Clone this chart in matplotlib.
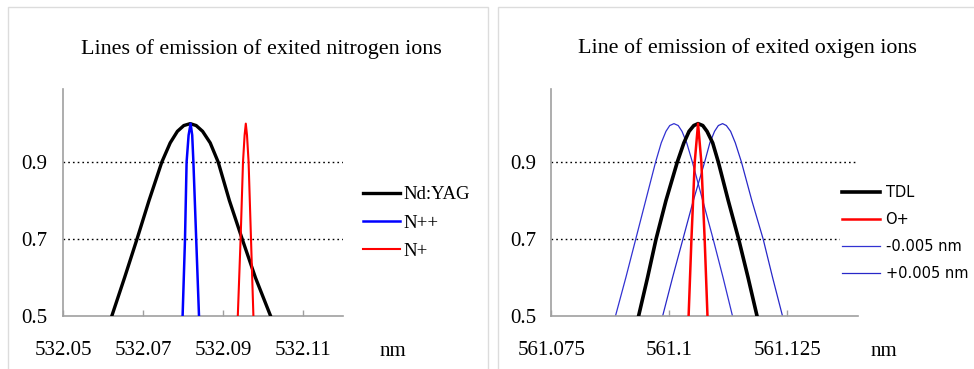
import matplotlib
matplotlib.use("Agg")
import matplotlib.pyplot as plt
from matplotlib.patches import Rectangle

# ---------------- data ----------------
# Left panel: nitrogen ions
yag_wl = [532.0622, 532.0654, 532.0685, 532.0715, 532.0747, 532.0768, 532.0786, 532.0802, 532.0818,
          532.0833, 532.0849, 532.0868, 532.0888, 532.0916, 532.0948, 532.0981, 532.1019]
yag_i = [0.50, 0.60, 0.70, 0.80, 0.90, 0.95, 0.98, 0.995, 1.00,
         0.995, 0.98, 0.95, 0.90, 0.80, 0.70, 0.60, 0.50]

npp_wl = [532.0799, 532.0805, 532.0809, 532.0814, 532.0819, 532.0823, 532.0826, 532.0833, 532.0840]
npp_i = [0.50, 0.70, 0.90, 0.97, 1.00, 0.97, 0.90, 0.70, 0.50]

np_wl = [532.0937, 532.0944, 532.0950, 532.0954, 532.0957, 532.0960, 532.0964, 532.0970, 532.0976]
np_i = [0.50, 0.70, 0.90, 0.97, 1.00, 0.97, 0.90, 0.70, 0.50]

# Right panel: oxygen ions
tdl_wl = [561.0935, 561.0954, 561.0972, 561.0993, 561.1017, 561.1031, 561.1042, 561.1052, 561.1061,
          561.1071, 561.1080, 561.1092, 561.1104, 561.1125, 561.1147, 561.1167, 561.1186]
tdl_i = [0.50, 0.60, 0.70, 0.80, 0.90, 0.95, 0.98, 0.995, 1.00,
         0.995, 0.98, 0.95, 0.90, 0.80, 0.70, 0.60, 0.50]

op_wl = [561.1041, 561.1047, 561.1054, 561.1061, 561.1068, 561.1075, 561.1081]
op_i = [0.50, 0.70, 0.90, 1.00, 0.90, 0.70, 0.50]

minus_wl = [561.0886, 561.0908, 561.0929, 561.0950, 561.0971, 561.0983, 561.0993, 561.1001, 561.1010,
            561.1019, 561.1027, 561.1037, 561.1049, 561.1071, 561.1093, 561.1114, 561.1134]
minus_i = [0.50, 0.60, 0.70, 0.80, 0.90, 0.95, 0.98, 0.995, 1.00,
           0.995, 0.98, 0.95, 0.90, 0.80, 0.70, 0.60, 0.50]

plus_wl = [561.0986, 561.1007, 561.1029, 561.1051, 561.1075, 561.1086, 561.1096, 561.1104, 561.1113,
           561.1121, 561.1130, 561.1140, 561.1153, 561.1175, 561.1199, 561.1219, 561.1240]
plus_i = [0.50, 0.60, 0.70, 0.80, 0.90, 0.95, 0.98, 0.995, 1.00,
          0.995, 0.98, 0.95, 0.90, 0.80, 0.70, 0.60, 0.50]

left_xticks = [532.05, 532.07, 532.09, 532.11]
left_xlabels = ["532.05", "532.07", "532.09", "532.11"]
right_xticks = [561.075, 561.1, 561.125]
right_xlabels = ["561.075", "561.1", "561.125"]
yticks = [0.5, 0.7, 0.9]
ylabels = ["0.5", "0.7", "0.9"]
grid_levels = [0.7, 0.9]

left_title = "Lines of emission of exited nitrogen ions"
right_title = "Line of emission of exited oxigen ions"

# ---------------- figure ----------------
W, H = 974, 369
fig = plt.figure(figsize=(W / 100, H / 100), dpi=100)
fig.patch.set_facecolor("white")

SERIF = ["Liberation Serif", "DejaVu Serif"]
SANS = ["DejaVu Sans"]

def fx(px):
    return px / W

def fy(py):
    return 1 - py / H

# panel borders
for x0, x1 in [(7.5, 488), (498, 990)]:
    fig.add_artist(Rectangle((fx(x0), fy(380)), fx(x1 - x0), (380 - 7) / H,
                             transform=fig.transFigure, fill=False,
                             edgecolor="#dcdcdc", linewidth=1.0))

YMAX = 1.09
ax_bottom_px, ax_top_px = 316, 89

def make_axes(x0, x1, xlim, xticks, xlabels):
    ax = fig.add_axes([fx(x0), fy(ax_bottom_px), fx(x1 - x0), (ax_bottom_px - ax_top_px) / H])
    ax.set_xlim(*xlim)
    ax.set_ylim(0.5, YMAX)
    for s in ["top", "right"]:
        ax.spines[s].set_visible(False)
    for s in ["left", "bottom"]:
        ax.spines[s].set_color("#a0a0a0")
        ax.spines[s].set_linewidth(1.2)
    ax.set_xticks(xticks)
    ax.set_xticklabels(xlabels, fontfamily=SERIF, fontsize=15)
    ax.set_yticks(yticks)
    ax.set_yticklabels(ylabels, fontfamily=SERIF, fontsize=15)
    ax.tick_params(axis="x", direction="in", length=4, width=1, color="#a0a0a0", pad=18)
    ax.tick_params(axis="y", length=0, pad=11)
    for g in grid_levels:
        ax.axhline(g, color="black", lw=1.0, ls=(0, (1.2, 2.2)), zorder=1)
    ax.patch.set_alpha(0)
    return ax

axL = make_axes(63, 343, (532.05, 532.12), left_xticks, left_xlabels)
axL.plot(yag_wl, yag_i, color="black", lw=2.4, label="Nd:YAG", zorder=3,
         solid_joinstyle="round")
axL.plot(npp_wl, npp_i, color="#0000ff", lw=1.8, label="N++", zorder=4)
axL.plot(np_wl, np_i, color="#ff0000", lw=1.5, label="N+", zorder=4)
legL = axL.legend(loc="upper left", bbox_to_anchor=(fx(350), fy(173)),
                  bbox_transform=fig.transFigure, frameon=False,
                  prop={"family": SERIF, "size": 13.5}, handlelength=1.95,
                  handletextpad=0.2, labelspacing=0.6, borderpad=0.2)

axR = make_axes(551.3, 858, (561.075, 561.14), right_xticks, right_xlabels)
axR.plot(tdl_wl, tdl_i, color="black", lw=2.6, label="TDL", zorder=3,
         solid_joinstyle="round")
axR.plot(op_wl, op_i, color="#ff0000", lw=1.8, label="O+", zorder=4)
axR.plot(minus_wl, minus_i, color="#3232d2", lw=0.9, label="-0.005 nm", zorder=2)
axR.plot(plus_wl, plus_i, color="#2828c8", lw=0.9, label="+0.005 nm", zorder=2)
legR = axR.legend(loc="upper left", bbox_to_anchor=(fx(833), fy(176)),
                  bbox_transform=fig.transFigure, frameon=True, fancybox=False,
                  facecolor="white", edgecolor="white", framealpha=1,
                  prop={"family": SANS, "size": 10.5}, handlelength=2.6,
                  handletextpad=0.35, labelspacing=0.82, borderpad=0.15)
legR.set_zorder(10)

# titles
fig.text(fx(261), fy(49), left_title, ha="center", va="center",
         fontfamily=SERIF, fontsize=15.8)
fig.text(fx(747), fy(48), right_title, ha="center", va="center",
         fontfamily=SERIF, fontsize=15.8)

# unit labels
fig.text(fx(393), fy(351), "nm", ha="center", va="center", fontfamily=SERIF, fontsize=15)
fig.text(fx(884), fy(351), "nm", ha="center", va="center", fontfamily=SERIF, fontsize=15)

fig.savefig("out.png", dpi=100, facecolor="white")
